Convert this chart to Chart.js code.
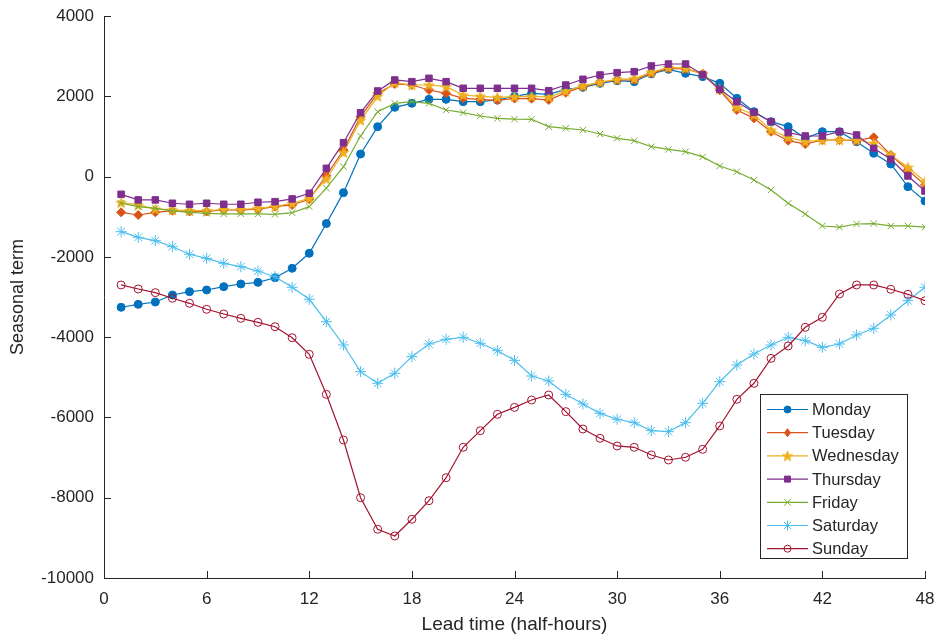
<!DOCTYPE html>
<html><head><meta charset="utf-8">
<script src="https://cdn.jsdelivr.net/npm/chart.js@4/dist/chart.umd.min.js"></script>
<style>html,body{margin:0;padding:0;background:#fff}#wrap{width:937px;height:639px;position:relative}</style>
</head><body><div id="wrap"><canvas id="c" width="937" height="639"></canvas></div>
<script>
const leadTimes = [1,2,3,4,5,6,7,8,9,10,11,12,13,14,15,16,17,18,19,20,21,22,23,24,25,26,27,28,29,30,31,32,33,34,35,36,37,38,39,40,41,42,43,44,45,46,47,48];
const xTicks = [0,6,12,18,24,30,36,42,48];
const yTicks = [-10000,-8000,-6000,-4000,-2000,0,2000,4000];
const dayNames = ['Monday','Tuesday','Wednesday','Thursday','Friday','Saturday','Sunday'];

const monday = [-3256,-3183,-3125,-2950,-2867,-2825,-2743,-2676,-2635,-2520,-2285,-1911,-1170,-400,562,1243,1725,1824,1924,1924,1865,1865,1907,2000,2074,2050,2174,2222,2323,2390,2364,2560,2672,2572,2489,2323,1950,1616,1367,1243,953,1118,1118,869,580,313,-252,-608];
const tuesday = [-890,-957,-890,-850,-870,-870,-832,-832,-810,-750,-707,-566,24,662,1492,2074,2306,2281,2157,2074,1950,1925,1900,1945,1940,1907,2090,2240,2348,2406,2406,2572,2696,2680,2564,2150,1658,1450,1118,894,811,911,911,894,978,538,165,-209];
const wednesday = [-650,-707,-807,-832,-850,-850,-820,-820,-790,-740,-665,-541,-60,600,1400,2000,2340,2281,2281,2240,2032,2000,1975,1990,2000,1980,2130,2260,2350,2420,2440,2600,2720,2700,2560,2180,1720,1540,1160,978,870,911,911,911,828,538,231,-125];
const thursday = [-442,-582,-582,-665,-690,-665,-690,-690,-640,-625,-557,-416,206,844,1591,2132,2406,2364,2448,2364,2199,2199,2199,2199,2199,2140,2281,2423,2530,2588,2613,2755,2804,2804,2540,2174,1865,1600,1367,1093,1011,1011,1118,1036,704,430,15,-359];
const friday = [-665,-750,-790,-855,-890,-915,-930,-930,-930,-940,-900,-750,-290,246,1011,1616,1824,1865,1824,1658,1591,1509,1450,1430,1427,1243,1202,1160,1061,953,894,744,678,620,490,262,121,-86,-335,-666,-932,-1231,-1260,-1181,-1170,-1230,-1230,-1260];
const saturday = [-1373,-1513,-1597,-1747,-1936,-2036,-2161,-2244,-2352,-2494,-2758,-3057,-3615,-4195,-4860,-5150,-4900,-4487,-4170,-4053,-4004,-4153,-4337,-4578,-4968,-5092,-5425,-5665,-5898,-6046,-6130,-6330,-6355,-6130,-5648,-5110,-4694,-4420,-4195,-4004,-4088,-4253,-4170,-3946,-3780,-3448,-3092,-2758];
const sunday = [-2700,-2800,-2892,-3032,-3157,-3306,-3423,-3531,-3631,-3740,-4014,-4428,-5425,-6562,-8000,-8786,-8953,-8537,-8074,-7501,-6744,-6330,-5922,-5750,-5566,-5441,-5856,-6288,-6520,-6711,-6744,-6935,-7060,-6993,-6794,-6213,-5549,-5150,-4528,-4220,-3755,-3506,-2925,-2700,-2700,-2808,-2933,-3092];

const seriesValues = [monday,tuesday,wednesday,thursday,friday,saturday,sunday];
const colors = ['#0072BD','#D95319','#EDB120','#7E2F8E','#77AC30','#4DBEEE','#A2142F'];
const markers = ['circle','rectRot','pentagram','rect','crossRot','star','circleOpen'];
const FONT = "'Liberation Sans', Arial, Helvetica, sans-serif";
const TXT = '#262626';

function makePentagram(color, R) {
  const s = Math.ceil(R * 2 + 2);
  const c = document.createElement('canvas');
  c.width = s; c.height = s;
  const g = c.getContext('2d');
  g.beginPath();
  for (let i = 0; i < 10; i++) {
    const r = (i % 2) ? R * 0.42 : R;
    const a = -Math.PI / 2 + i * Math.PI / 5;
    const px = s / 2 + r * Math.cos(a), py = s / 2 + r * Math.sin(a) + 0.5;
    if (i === 0) g.moveTo(px, py); else g.lineTo(px, py);
  }
  g.closePath();
  g.fillStyle = color; g.fill();
  g.strokeStyle = color; g.lineWidth = 0.8; g.stroke();
  return c;
}
const starImg = makePentagram(colors[2], 5.5);

function styleFor(i) {
  const m = markers[i];
  const col = colors[i];
  const base = { pointBorderColor: col, pointBackgroundColor: col, pointBorderWidth: 1 };
  switch (m) {
    case 'circle': return Object.assign(base, { pointStyle: 'circle', pointRadius: 4 });
    case 'rectRot': return Object.assign(base, { pointStyle: 'rectRot', pointRadius: 4.5 });
    case 'pentagram': return Object.assign(base, { pointStyle: starImg, pointRadius: 5 });
    case 'rect': return Object.assign(base, { pointStyle: 'rect', pointRadius: 4.6 });
    case 'crossRot': return Object.assign(base, { pointStyle: 'crossRot', pointRadius: 4.5 });
    case 'star': return Object.assign(base, { pointStyle: 'star', pointRadius: 5.5 });
    case 'circleOpen': return Object.assign(base, { pointStyle: 'circle', pointRadius: 4, pointBackgroundColor: 'rgba(0,0,0,0)' });
  }
}

const datasets = seriesValues.map((vals, i) => Object.assign({
  label: dayNames[i],
  data: leadTimes.map((x, k) => ({ x: x, y: vals[k] })),
  borderColor: colors[i],
  borderWidth: 1.2,
  fill: false,
  tension: 0,
  order: 7 - i,
  pointHoverRadius: 4
}, styleFor(i)));

function drawMarker(ctx, i, x, y) {
  const col = colors[i];
  ctx.save();
  ctx.strokeStyle = col; ctx.fillStyle = col; ctx.lineWidth = 1;
  ctx.beginPath();
  const m = markers[i];
  if (m === 'circle' || m === 'circleOpen') {
    ctx.arc(x, y, 3.5, 0, Math.PI * 2);
    if (m === 'circle') ctx.fill();
    ctx.stroke();
  } else if (m === 'rectRot') {
    const r = 4;
    ctx.moveTo(x, y - r); ctx.lineTo(x + r * 0.75, y); ctx.lineTo(x, y + r); ctx.lineTo(x - r * 0.75, y); ctx.closePath();
    ctx.fill(); ctx.stroke();
  } else if (m === 'pentagram') {
    ctx.drawImage(starImg, x - starImg.width / 2, y - starImg.height / 2);
  } else if (m === 'rect') {
    ctx.rect(x - 3, y - 3, 6, 6); ctx.fill(); ctx.stroke();
  } else if (m === 'crossRot') {
    const r = 3.5;
    ctx.moveTo(x - r, y - r); ctx.lineTo(x + r, y + r); ctx.moveTo(x + r, y - r); ctx.lineTo(x - r, y + r); ctx.stroke();
  } else if (m === 'star') {
    const r = 5, d = r * Math.SQRT1_2;
    ctx.moveTo(x, y - r); ctx.lineTo(x, y + r); ctx.moveTo(x - r, y); ctx.lineTo(x + r, y);
    ctx.moveTo(x - d, y - d); ctx.lineTo(x + d, y + d); ctx.moveTo(x + d, y - d); ctx.lineTo(x - d, y + d);
    ctx.stroke();
  }
  ctx.restore();
}

const inwardTicks = {
  id: 'inwardTicks',
  afterDatasetsDraw(chart) {
    const ctx = chart.ctx, xs = chart.scales.x, ys = chart.scales.y, a = chart.chartArea;
    ctx.save();
    ctx.strokeStyle = TXT; ctx.lineWidth = 1;
    ctx.beginPath();
    xs.ticks.forEach(t => { const p = Math.round(xs.getPixelForValue(t.value)) + 0.5; ctx.moveTo(p, a.bottom); ctx.lineTo(p, a.bottom - 7); });
    ys.ticks.forEach(t => { const p = Math.round(ys.getPixelForValue(t.value)) + 0.5; ctx.moveTo(a.left, p); ctx.lineTo(a.left + 7, p); });
    ctx.stroke();
    ctx.restore();
  }
};

const boxLegend = {
  id: 'boxLegend',
  afterDraw(chart) {
    const ctx = chart.ctx, a = chart.chartArea;
    const rowH = 23.2, w = 147, h = 164;
    const right = a.right - 18, bottom = a.bottom - 20;
    const left = right - w, top = bottom - h;
    ctx.save();
    ctx.fillStyle = '#ffffff';
    ctx.fillRect(left, top, w, h);
    ctx.strokeStyle = '#262626'; ctx.lineWidth = 1;
    ctx.strokeRect(Math.round(left) + 0.5, Math.round(top) + 0.5, w, h);
    ctx.font = '16.5px ' + FONT;
    ctx.textBaseline = 'middle';
    ctx.textAlign = 'left';
    chart.data.datasets.forEach((ds, i) => {
      const cy = top + 15.5 + i * rowH;
      ctx.strokeStyle = colors[i]; ctx.lineWidth = 1.2;
      ctx.beginPath(); ctx.moveTo(left + 7, cy); ctx.lineTo(left + 48, cy); ctx.stroke();
      drawMarker(ctx, i, left + 27.5, cy);
      ctx.fillStyle = TXT;
      ctx.fillText(ds.label, left + 52, cy + 1);
    });
    ctx.restore();
  }
};

Chart.defaults.font.family = FONT;
Chart.defaults.color = TXT;

new Chart(document.getElementById('c'), {
  type: 'line',
  data: { datasets: datasets },
  options: {
    responsive: false,
    animation: false,
    devicePixelRatio: 1,
    layout: { padding: { top: 16, right: 12, left: 0, bottom: 0 } },
    plugins: { legend: { display: false }, tooltip: { enabled: false } },
    scales: {
      x: {
        type: 'linear', min: 0, max: 48,
        afterBuildTicks: s => { s.ticks = xTicks.map(v => ({ value: v })); },
        ticks: { font: { size: 17 }, color: TXT, padding: 11, maxRotation: 0, autoSkip: false, callback: v => String(v) },
        grid: { display: false, drawTicks: false },
        border: { display: true, color: TXT, width: 1 },
        title: { display: true, text: 'Lead time (half-hours)', font: { size: 19 }, color: TXT, padding: { top: 0, bottom: 3 } },
        afterFit: s => { s.height = 61; s.paddingRight = 0; s.paddingLeft = 0; }
      },
      y: {
        type: 'linear', min: -10000, max: 4000,
        afterBuildTicks: s => { s.ticks = yTicks.map(v => ({ value: v })); },
        ticks: { font: { size: 17 }, color: TXT, padding: 10, autoSkip: false, callback: v => String(v) },
        grid: { display: false, drawTicks: false },
        border: { display: true, color: TXT, width: 1 },
        title: { display: true, text: 'Seasonal term', font: { size: 18 }, color: TXT, padding: { top: 7, bottom: 0 } },
        afterFit: s => { s.width = 104; s.paddingTop = 0; s.paddingBottom = 0; }
      }
    }
  },
  plugins: [inwardTicks, boxLegend]
});
</script>
</body></html>
